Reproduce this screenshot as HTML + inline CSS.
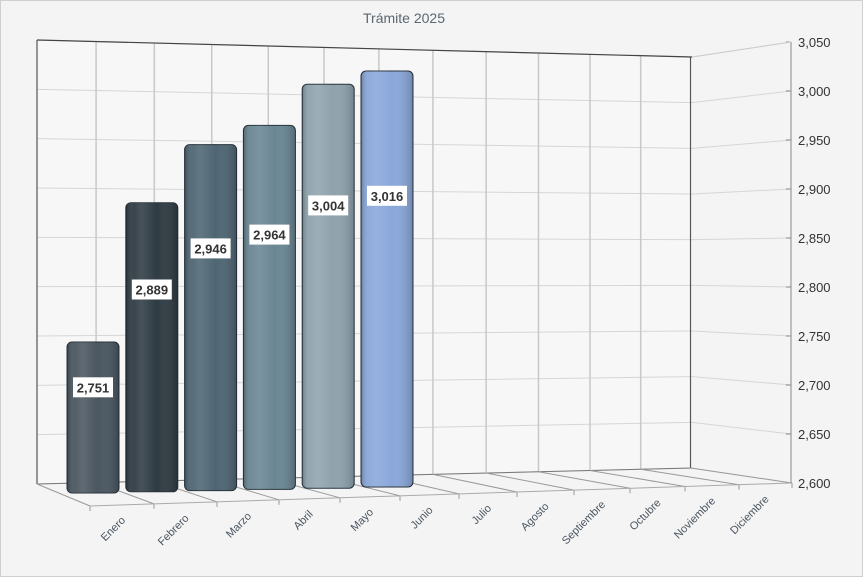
<!DOCTYPE html>
<html><head><meta charset="utf-8"><style>
html,body{margin:0;padding:0;background:#fff}
#wrap{position:relative;width:861px;height:575px;border:1px solid #cfcfcf;background:#f4f4f4}
svg text{font-family:"Liberation Sans",sans-serif}
</style></head><body>
<div id="wrap">
<svg id="chart" width="863" height="577" style="position:absolute;left:-1px;top:-1px">
<defs>
</defs>
</svg>
</div>
<script>
const categories=["Enero","Febrero","Marzo","Abril","Mayo","Junio","Julio","Agosto","Septiembre","Octubre","Noviembre","Diciembre"];
const values=[2751,2889,2946,2964,3004,3016];
const valueLabels=["2,751","2,889","2,946","2,964","3,004","3,016"];
const tickValues=[2600,2650,2700,2750,2800,2850,2900,2950,3000,3050];
const tickLabels=["2,600","2,650","2,700","2,750","2,800","2,850","2,900","2,950","3,000","3,050"];
const barColors=["#4a5660","#2f3b43","#4e6573","#6a8694","#8fa3ad","#8aa7da"];
const yMin=2600,yMax=3050;

const svg=document.getElementById('chart');
const NS='http://www.w3.org/2000/svg';
function mk(t,a){const e=document.createElementNS(NS,t);for(const k in a)e.setAttribute(k,a[k]);return e;}
const n=categories.length;
function frontX(i){return 90+64.5*i-0.5*i*i;}
function backX(i){return 37+59.5*i-0.42*i*i;}
function lerp(a,b,t){return a+(b-a)*t;}
function backYAt(x,v){const t=(x-37)/(692-37);const b=lerp(484,468,t),tp=lerp(40,57,t);return b-(v-yMin)/(yMax-yMin)*(b-tp);}
function frontYAxis(v){return 483-(v-yMin)/(yMax-yMin)*441;}
function frontFloorY(x){return lerp(506,483,(x-90)/(791-90));}

const defs=svg.querySelector('defs');
barColors.forEach((c,i)=>{
  const g=mk('linearGradient',{id:'g'+i,x1:'0',x2:'1',y1:'0',y2:'0'});
  g.appendChild(mk('stop',{offset:'0','stop-color':c}));
  g.appendChild(mk('stop',{offset:'0.5','stop-color':c}));
  g.appendChild(mk('stop',{offset:'1','stop-color':c}));
  defs.appendChild(g);
});
const sh=mk('linearGradient',{id:'shade',x1:'0',x2:'1',y1:'0',y2:'0'});
sh.appendChild(mk('stop',{offset:'0','stop-color':'#000','stop-opacity':'0.25'}));
sh.appendChild(mk('stop',{offset:'0.15','stop-color':'#fff','stop-opacity':'0.05'}));
sh.appendChild(mk('stop',{offset:'0.3','stop-color':'#fff','stop-opacity':'0.12'}));
sh.appendChild(mk('stop',{offset:'0.6','stop-color':'#fff','stop-opacity':'0'}));
sh.appendChild(mk('stop',{offset:'1','stop-color':'#000','stop-opacity':'0.2'}));
defs.appendChild(sh);

let t=mk('text',{x:404,y:23,'text-anchor':'middle','font-size':'14',fill:'#5a6670'});
t.textContent='Trámite 2025';


svg.appendChild(t);

let wall=mk('polygon',{points:'37,40 692,57 692,468 37,484',fill:'#f7f7f7',stroke:'none'});


svg.appendChild(wall);

tickValues.forEach((v,k)=>{
  const yl=backYAt(37,v),yr=backYAt(692,v),yf=frontYAxis(v);
  let l=mk('line',{x1:37,y1:yl,x2:692,y2:yr,stroke:'#d6d6d6','stroke-width':1});
  
  
  svg.appendChild(l);
  let s=mk('line',{x1:692,y1:yr,x2:791,y2:yf,stroke:'#d6d6d6','stroke-width':1});
  
  
  svg.appendChild(s);
  let tk=mk('line',{x1:786,y1:yf,x2:791,y2:yf,stroke:'#888'});
  
  
  svg.appendChild(tk);
  let tx=mk('text',{x:798,y:yf+5,'font-size':'13',fill:'#333'});
  tx.textContent=tickLabels[k];
  
  
  svg.appendChild(tx);
});
for(let i=0;i<=n;i++){
  const x=backX(i);
  let l=mk('line',{x1:x,y1:backYAt(x,yMax),x2:x,y2:backYAt(x,yMin),stroke:(i==0||i==n)?'#555':'#c8c8c8','stroke-width':(i==0||i==n)?1.2:1.5});
  
  
  svg.appendChild(l);
}
svg.appendChild(mk('line',{x1:37,y1:40,x2:692,y2:57,stroke:'#444','stroke-width':1.2}));
svg.appendChild(mk('line',{x1:37,y1:484,x2:692,y2:468,stroke:'#777','stroke-width':1}));
for(let i=0;i<=n;i++){
  const bx=backX(i),fx=frontX(i);
  let l=mk('line',{x1:bx,y1:backYAt(bx,yMin),x2:fx,y2:frontFloorY(fx),stroke:'#9a9a9a','stroke-width':1});
  
  
  svg.appendChild(l);
  let tk=mk('line',{x1:fx,y1:frontFloorY(fx),x2:fx,y2:frontFloorY(fx)+5,stroke:'#999'});
  
  
  svg.appendChild(tk);
}
let fl=mk('line',{x1:90,y1:506,x2:791,y2:483,stroke:'#aaa'});


svg.appendChild(fl);
let ya=mk('line',{x1:791,y1:42,x2:791,y2:483,stroke:'#888'});


svg.appendChild(ya);
svg.appendChild(mk('line',{x1:692,y1:57,x2:791,y2:42,stroke:'#ccc'}));

const k=1.0;
values.forEach((v,i)=>{
  const x=67+58.8*i,w=52,base=493-1.2*i,top=base-(v-yMin)*k;
  let r=mk('rect',{x:x,y:top,width:w,height:base-top,rx:5,ry:5,fill:'url(#g'+i+')',stroke:'#26303a','stroke-width':1});
  
  
  svg.appendChild(r);
  let s=mk('rect',{x:x,y:top,width:w,height:base-top,rx:5,ry:5,fill:'url(#shade)'});
  
  
  svg.appendChild(s);
  const ly=top+(base-top)*0.3;
  let bx=mk('rect',{x:x+w/2-20,y:ly-10,width:40,height:20,fill:'#ffffff'});
  
  
  svg.appendChild(bx);
  let tx=mk('text',{x:x+w/2,y:ly+5,'text-anchor':'middle','font-size':'13','font-weight':'bold',fill:'#333'});
  tx.textContent=valueLabels[i];
  
  
  svg.appendChild(tx);
});

categories.forEach((c,i)=>{
  const cx=(frontX(i)+frontX(i+1))/2;
  const cy=frontFloorY(cx)+16;
  let tx=mk('text',{x:cx+4,y:cy,'text-anchor':'end','font-size':'11',fill:'#4a5560',transform:'rotate(-45 '+(cx+4)+' '+cy+')'});
  tx.textContent=c;
  
  
  svg.appendChild(tx);
});
</script>
</body></html>
